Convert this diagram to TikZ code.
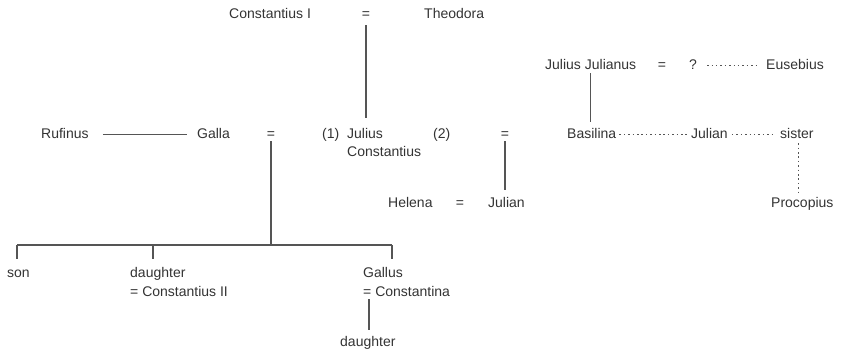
\documentclass[tikz,border=0pt]{standalone}
\usepackage{fontspec}
\setmainfont{Liberation Sans}
\definecolor{txt}{HTML}{333333}
\definecolor{ln}{HTML}{555555}
\begin{document}
\begin{tikzpicture}[x=1pt,y=1pt,
  lbl/.style={anchor=base west, inner sep=0pt, text height=10pt, text depth=3pt,
              font=\fontsize{14}{17}\selectfont, text=txt},
  eqs/.style={lbl, anchor=base},
  solidline/.style={draw=ln, line width=1.2pt},
  dotline/.style={draw=ln, line width=1.1pt, dash pattern=on 1.5pt off 2.9pt}]
\useasboundingbox (0,0) rectangle (843,-348);
% top generation
\node[lbl] (C1) at (229,-19) {Constantius I};
\node[eqs] (eq1) at (366,-19) {=};
\node[lbl] (Theo) at (424,-19) {Theodora};
% Julius Julianus row
\node[lbl] (JJ) at (545,-69) {Julius Julianus};
\node[eqs] (eq2) at (662,-69) {=};
\node[eqs] (q) at (693,-69) {?};
\node[lbl] (Eus) at (766,-69) {Eusebius};
% second row
\node[lbl] (Ruf) at (41,-138) {Rufinus};
\node[lbl] (Galla) at (197,-138) {Galla};
\node[eqs] (eq3) at (271,-138) {=};
\node[lbl] (one) at (322,-138) {(1)};
\node[lbl] (JC) at (347,-138) {Julius};
\node[lbl] (JC2) at (347,-156) {Constantius};
\node[lbl] (two) at (433,-138) {(2)};
\node[eqs] (eq4) at (505,-138) {=};
\node[lbl] (Bas) at (567,-138) {Basilina};
\node[lbl] (Jul2) at (691,-138) {Julian};
\node[lbl] (sis) at (780,-138) {sister};
% third row
\node[lbl] (Hel) at (388,-207) {Helena};
\node[eqs] (eq5) at (460,-207) {=};
\node[lbl] (Jul) at (488,-207) {Julian};
\node[lbl] (Proc) at (771,-207) {Procopius};
% children of Galla
\node[lbl] (son) at (7,-277) {son};
\node[lbl] (dau) at (130,-277) {daughter};
\node[lbl] (dau2) at (130,-296) {= Constantius II};
\node[lbl] (Gal) at (363,-277) {Gallus};
\node[lbl] (Gal2) at (363,-296) {= Constantina};
\node[lbl] (dau3) at (340,-346) {daughter};
% bar coordinates
\coordinate (bL) at (17,-245);
\coordinate (bD) at (153,-245);
\coordinate (bM) at (271,-245);
\coordinate (bR) at (392,-245);
% solid connectors
\draw[solidline] ([yshift=-3pt]eq1.south) -- ([yshift=10pt]eq1.south |- JC.north);
\draw[solidline] ([xshift=14pt]Ruf.east) -- ([xshift=-10pt]Galla.west);
\draw[solidline] (eq3.south) -- (bM);
\draw[solidline] (bL) -- (bR);
\draw[solidline] (bL) -- ([yshift=8pt]bL |- son.north);
\draw[solidline] (bD) -- ([yshift=8pt]bD |- dau.north);
\draw[solidline] (bR) -- ([yshift=8pt]bR |- Gal.north);
\draw[solidline] ([xshift=6pt]Gal2.south west) -- ([xshift=6pt,yshift=6pt]Gal2.south west |- dau3.north);
\draw[solidline] (eq4.south) -- ([yshift=7pt]eq4.south |- Jul.north);
\draw[solidline] ([yshift=-1pt]JJ.south) -- ([yshift=6pt]JJ.south |- Bas.north);
% dotted connectors
\draw[dotline] ([xshift=10pt]q.east) -- ([xshift=-8pt]Eus.west);
\draw[dotline] ([xshift=3pt]Bas.east) -- ([xshift=-4pt]Jul2.west);
\draw[dotline] ([xshift=4pt]Jul2.east) -- ([xshift=-7pt]sis.west);
\draw[dotline] ([xshift=1.5pt,yshift=-2pt]sis.south) -- ([xshift=1.5pt,yshift=4pt]sis.south |- Proc.north);
\end{tikzpicture}
\end{document}
